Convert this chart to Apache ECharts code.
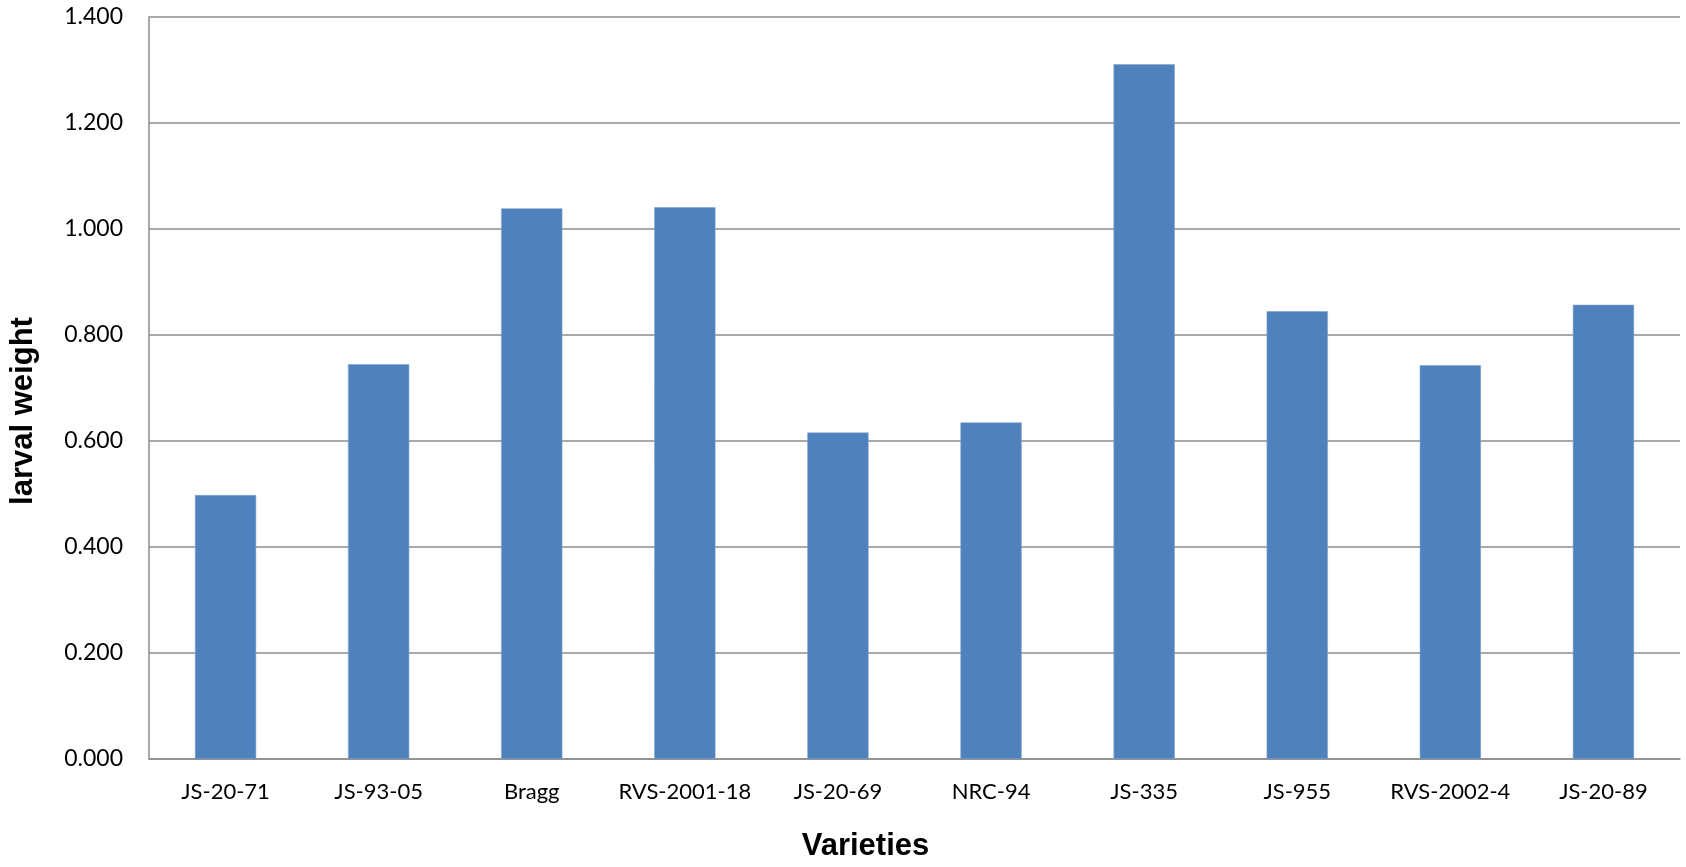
<!DOCTYPE html>
<html>
<head>
<meta charset="utf-8">
<title>Larval weight by variety</title>
<script src="https://cdn.jsdelivr.net/npm/echarts@6/dist/echarts.min.js"></script>
<style>
  html, body { margin: 0; padding: 0; background: #ffffff; }
  #chart { width: 1686px; height: 867px; }
</style>
</head>
<body>
<div id="chart"></div>
<script>
// Soybean varieties on the x axis
const varieties = ['JS-20-71', 'JS-93-05', 'Bragg', 'RVS-2001-18', 'JS-20-69', 'NRC-94', 'JS-335', 'JS-955', 'RVS-2002-4', 'JS-20-89'];
// Mean larval weight per variety
const larvalWeight = [0.498, 0.745, 1.039, 1.041, 0.616, 0.635, 1.311, 0.845, 0.743, 0.857];
// Value axis range
const yMin = 0;
const yMax = 1.4;
const yStep = 0.2;

const chart = echarts.init(document.getElementById('chart'), null, { renderer: 'canvas' });
const labelFont = 'Lato, "Open Sans", "Liberation Sans", sans-serif';
const titleFont = '"Liberation Sans", Arial, sans-serif';

chart.setOption({
  animation: false,
  backgroundColor: '#ffffff',
  grid: { left: 149, right: 6, top: 17, bottom: 108, containLabel: false },
  xAxis: {
    type: 'category',
    data: varieties,
    name: 'Varieties',
    nameLocation: 'middle',
    nameGap: 72,
    nameTextStyle: {
      fontFamily: titleFont, fontWeight: 'bold', fontSize: 31, color: '#000',
      padding: [0, 98, 0, 0]
    },
    axisLine: { show: true, lineStyle: { color: '#8c8c8c', width: 1.5 } },
    axisTick: { show: false },
    axisLabel: { fontFamily: labelFont, fontSize: 22, color: '#000', margin: 22, interval: 0 },
    splitLine: { show: false }
  },
  yAxis: {
    type: 'value',
    min: yMin,
    max: yMax,
    interval: yStep,
    name: 'larval weight',
    nameLocation: 'middle',
    nameGap: 110,
    nameTextStyle: {
      fontFamily: titleFont, fontWeight: 'bold', fontSize: 31, color: '#000',
      padding: [0, 46, 0, 0]
    },
    axisLine: { show: true, lineStyle: { color: '#8c8c8c', width: 1.5 } },
    axisTick: { show: false },
    axisLabel: {
      fontFamily: labelFont, fontSize: 23, color: '#000', margin: 26,
      formatter: v => v.toFixed(3)
    },
    splitLine: { show: true, lineStyle: { color: '#8c8c8c', width: 1.5 } }
  },
  series: [{
    type: 'bar',
    data: larvalWeight,
    barWidth: '40%',
    itemStyle: { color: '#4f81bd', borderColor: '#7da2d0', borderWidth: 0.6 }
  }]
});
</script>
</body>
</html>
